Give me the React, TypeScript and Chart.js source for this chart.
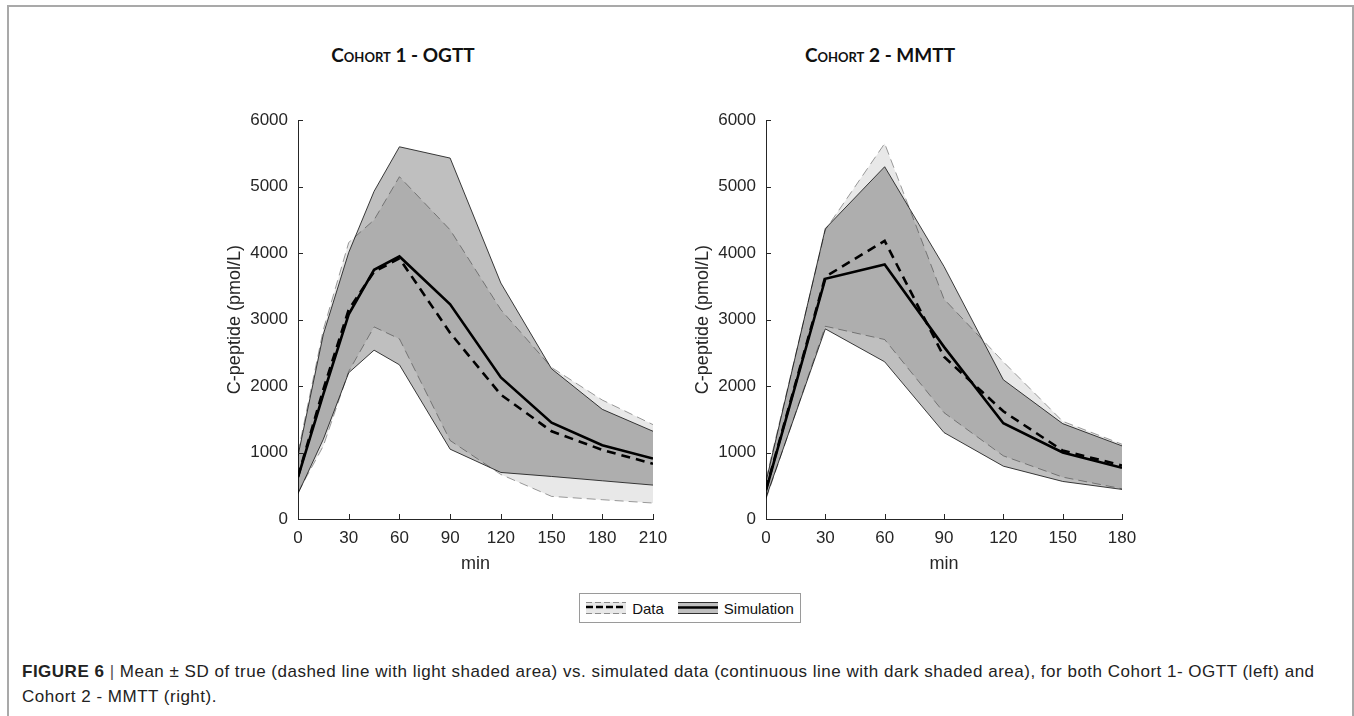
import React, { useEffect, useRef } from "react";
import { Chart, registerables } from "chart.js";

Chart.register(...registerables);

// ---------- data ----------
const yTicks = [0, 1000, 2000, 3000, 4000, 5000, 6000];

const leftMinutes = [0, 15, 30, 45, 60, 90, 120, 150, 180, 210];
const leftXTicks = [0, 30, 60, 90, 120, 150, 180, 210];
const leftDataMean = [640, 1950, 3150, 3720, 3920, 2800, 1870, 1320, 1040, 830];
const leftDataUpper = [1000, 2850, 4160, 4500, 5150, 4350, 3150, 2280, 1790, 1420];
const leftDataLower = [400, 1100, 2220, 2890, 2710, 1180, 670, 340, 290, 240];
const leftSimMean = [630, 1880, 3080, 3750, 3950, 3230, 2130, 1450, 1110, 910];
const leftSimUpper = [950, 2780, 4010, 4930, 5600, 5430, 3550, 2260, 1650, 1320];
const leftSimLower = [380, 1200, 2200, 2540, 2320, 1050, 700, 640, 575, 510];

const rightMinutes = [0, 30, 60, 90, 120, 150, 180];
const rightXTicks = [0, 30, 60, 90, 120, 150, 180];
const rightDataMean = [450, 3645, 4185, 2440, 1620, 1030, 805];
const rightDataUpper = [600, 4350, 5650, 3310, 2365, 1470, 1125];
const rightDataLower = [300, 2900, 2700, 1600, 950, 630, 455];
const rightSimMean = [430, 3615, 3830, 2590, 1440, 1000, 770];
const rightSimUpper = [560, 4370, 5300, 3800, 2095, 1435, 1100];
const rightSimLower = [320, 2860, 2365, 1300, 795, 565, 445];

const titles = ["Cohort 1 - OGTT", "Cohort 2 - MMTT"];
const xTitle = "min";
const yTitle = "C-peptide (pmol/L)";

// ---------- styles ----------
const AXIS = "#262626";
const FONT = "'Liberation Sans', Arial, Helvetica, sans-serif";

const pts = (xs: number[], ys: number[]) => xs.map((x, i) => ({ x, y: ys[i] }));

const inwardTicks = {
  id: "inwardTicks",
  afterDraw(chart: any) {
    const { ctx, chartArea, scales } = chart;
    ctx.save();
    ctx.strokeStyle = AXIS;
    ctx.lineWidth = 1;
    ctx.beginPath();
    scales.x.ticks.forEach((t: any) => {
      const px = Math.round(scales.x.getPixelForValue(t.value)) + 0.5;
      ctx.moveTo(px, chartArea.bottom);
      ctx.lineTo(px, chartArea.bottom - 5);
    });
    scales.y.ticks.forEach((t: any) => {
      const py = Math.round(scales.y.getPixelForValue(t.value)) + 0.5;
      ctx.moveTo(chartArea.left, py);
      ctx.lineTo(chartArea.left + 5, py);
    });
    ctx.stroke();
    ctx.restore();
  },
};

type Props = {
  left: number;
  width: number;
  minutes: number[];
  xTicks: number[];
  dataMean: number[];
  dataUpper: number[];
  dataLower: number[];
  simMean: number[];
  simUpper: number[];
  simLower: number[];
};

function CohortChart(p: Props) {
  const ref = useRef<HTMLCanvasElement>(null);
  useEffect(() => {
    const xMax = p.xTicks[p.xTicks.length - 1];
    const chart = new Chart(ref.current as HTMLCanvasElement, {
      type: "line",
      data: {
        datasets: [
          {
            label: "Simulation",
            data: pts(p.minutes, p.simMean),
            borderColor: "#000",
            borderWidth: 2.6,
            fill: false,
            order: 0,
          },
          {
            label: "Data",
            data: pts(p.minutes, p.dataMean),
            borderColor: "#000",
            borderWidth: 2.6,
            borderDash: [9, 6],
            fill: false,
            order: 1,
          },
          {
            label: "Data +SD",
            data: pts(p.minutes, p.dataUpper),
            borderColor: "rgba(0,0,0,0.38)",
            borderWidth: 1,
            borderDash: [9, 5],
            fill: "+1",
            backgroundColor: "rgba(0,0,0,0.09)",
            order: 2,
          },
          {
            label: "Data -SD",
            data: pts(p.minutes, p.dataLower),
            borderColor: "rgba(0,0,0,0.38)",
            borderWidth: 1,
            borderDash: [9, 5],
            fill: false,
            order: 3,
          },
          {
            label: "Simulation +SD",
            data: pts(p.minutes, p.simUpper),
            borderColor: "rgba(0,0,0,0.75)",
            borderWidth: 1,
            fill: "+1",
            backgroundColor: "rgba(0,0,0,0.25)",
            order: 4,
          },
          {
            label: "Simulation -SD",
            data: pts(p.minutes, p.simLower),
            borderColor: "rgba(0,0,0,0.75)",
            borderWidth: 1,
            fill: false,
            order: 5,
          },
        ],
      },
      options: {
        animation: false,
        responsive: false,
        maintainAspectRatio: false,
        layout: { padding: { top: 16, right: 27, bottom: 1, left: 0 } },
        elements: { line: { tension: 0 }, point: { radius: 0, hoverRadius: 0 } },
        plugins: {
          legend: { display: false },
          tooltip: { enabled: false },
        },
        events: [],
        scales: {
          x: {
            type: "linear",
            min: 0,
            max: xMax,
            afterBuildTicks: (s: any) => {
              s.ticks = p.xTicks.map((v) => ({ value: v }));
            },
            afterFit: (s: any) => {
              s.height = 60;
            },
            grid: { display: false, drawTicks: false },
            border: { display: true, color: AXIS, width: 1 },
            ticks: {
              padding: 9,
              color: AXIS,
              maxRotation: 0,
              autoSkip: false,
              font: { family: FONT, size: 17 },
              callback: (v: any) => String(v),
            },
            title: {
              display: true,
              text: xTitle,
              color: AXIS,
              font: { family: FONT, size: 18 },
              padding: { top: 0, bottom: 4 },
            },
          },
          y: {
            type: "linear",
            min: 0,
            max: 6000,
            afterBuildTicks: (s: any) => {
              s.ticks = yTicks.map((v) => ({ value: v }));
            },
            afterFit: (s: any) => {
              s.width = 98;
            },
            grid: { display: false, drawTicks: false },
            border: { display: true, color: AXIS, width: 1 },
            ticks: {
              padding: 10,
              color: AXIS,
              autoSkip: false,
              font: { family: FONT, size: 17 },
              callback: (v: any) => String(v),
            },
            title: {
              display: true,
              text: yTitle,
              color: AXIS,
              font: { family: FONT, size: 18 },
              padding: { top: 24, bottom: 0 },
            },
          },
        },
      } as any,
      plugins: [inwardTicks],
    });
    return () => chart.destroy();
  }, []);
  return (
    <canvas
      ref={ref}
      width={p.width}
      height={480}
      style={{ position: "absolute", left: p.left, top: 100, width: p.width, height: 480 }}
    />
  );
}

function DataIcon() {
  return (
    <svg width="40" height="16" style={{ display: "block" }}>
      <rect x="0" y="2" width="40" height="12" fill="rgba(0,0,0,0.09)" />
      <line x1="0" y1="2.5" x2="40" y2="2.5" stroke="rgba(0,0,0,0.4)" strokeWidth="1" strokeDasharray="6 3" />
      <line x1="0" y1="7" x2="40" y2="7" stroke="#000" strokeWidth="2.5" strokeDasharray="7 3" />
      <line x1="0" y1="13.5" x2="40" y2="13.5" stroke="rgba(0,0,0,0.4)" strokeWidth="1" strokeDasharray="6 3" />
    </svg>
  );
}

function SimIcon() {
  return (
    <svg width="40" height="16" style={{ display: "block" }}>
      <rect x="0" y="2" width="40" height="12" fill="rgba(0,0,0,0.25)" />
      <line x1="0" y1="2.5" x2="40" y2="2.5" stroke="rgba(0,0,0,0.75)" strokeWidth="1" />
      <line x1="0" y1="7.5" x2="40" y2="7.5" stroke="#000" strokeWidth="2.5" />
      <line x1="0" y1="13.5" x2="40" y2="13.5" stroke="rgba(0,0,0,0.75)" strokeWidth="1" />
    </svg>
  );
}

const titleStyle: React.CSSProperties = {
  position: "absolute",
  top: 42,
  width: 260,
  textAlign: "center",
  fontFamily: "Lato, 'Open Sans', sans-serif",
  fontWeight: 700,
  fontVariant: "small-caps",
  fontSize: 19,
  color: "#111",
  lineHeight: "26px",
};

export default function App() {
  return (
    <div
      style={{
        position: "absolute",
        left: 0,
        top: 0,
        width: 1354,
        height: 716,
        overflow: "hidden",
        background: "#fff",
      }}
    >
      <div
        style={{
          position: "absolute",
          left: 7,
          top: 5,
          width: 1343,
          height: 720,
          borderTop: "2px solid #a9a9a9",
          borderLeft: "2px solid #a9a9a9",
          borderRight: "2px solid #a9a9a9",
        }}
      />
      <div style={{ ...titleStyle, left: 403 - 130 }}>{titles[0]}</div>
      <div style={{ ...titleStyle, left: 880 - 130 }}>{titles[1]}</div>

      <CohortChart
        left={200}
        width={480}
        minutes={leftMinutes}
        xTicks={leftXTicks}
        dataMean={leftDataMean}
        dataUpper={leftDataUpper}
        dataLower={leftDataLower}
        simMean={leftSimMean}
        simUpper={leftSimUpper}
        simLower={leftSimLower}
      />
      <CohortChart
        left={668}
        width={481}
        minutes={rightMinutes}
        xTicks={rightXTicks}
        dataMean={rightDataMean}
        dataUpper={rightDataUpper}
        dataLower={rightDataLower}
        simMean={rightSimMean}
        simUpper={rightSimUpper}
        simLower={rightSimLower}
      />

      <div
        style={{
          position: "absolute",
          left: 579,
          top: 593,
          width: 220,
          height: 28,
          border: "1px solid #9a9a9a",
          display: "flex",
          alignItems: "center",
          justifyContent: "center",
          gap: 6,
          fontFamily: FONT,
          fontSize: 15,
          color: "#111",
          boxSizing: "content-box",
        }}
      >
        <DataIcon />
        <span style={{ marginRight: 8 }}>Data</span>
        <SimIcon />
        <span>Simulation</span>
      </div>

      <div
        style={{
          position: "absolute",
          left: 22,
          top: 659,
          width: 1325,
          fontFamily: FONT,
          fontSize: 17,
          letterSpacing: "0.5px",
          lineHeight: "25px",
          color: "#222",
          whiteSpace: "nowrap",
        }}
      >
        <b>FIGURE 6</b> <span style={{ color: "#555" }}>|</span> Mean ± SD of true (dashed line with light shaded area) vs.
        simulated data (continuous line with dark shaded area), for both Cohort 1- OGTT (left) and
        <br />
        Cohort 2 - MMTT (right).
      </div>
    </div>
  );
}
